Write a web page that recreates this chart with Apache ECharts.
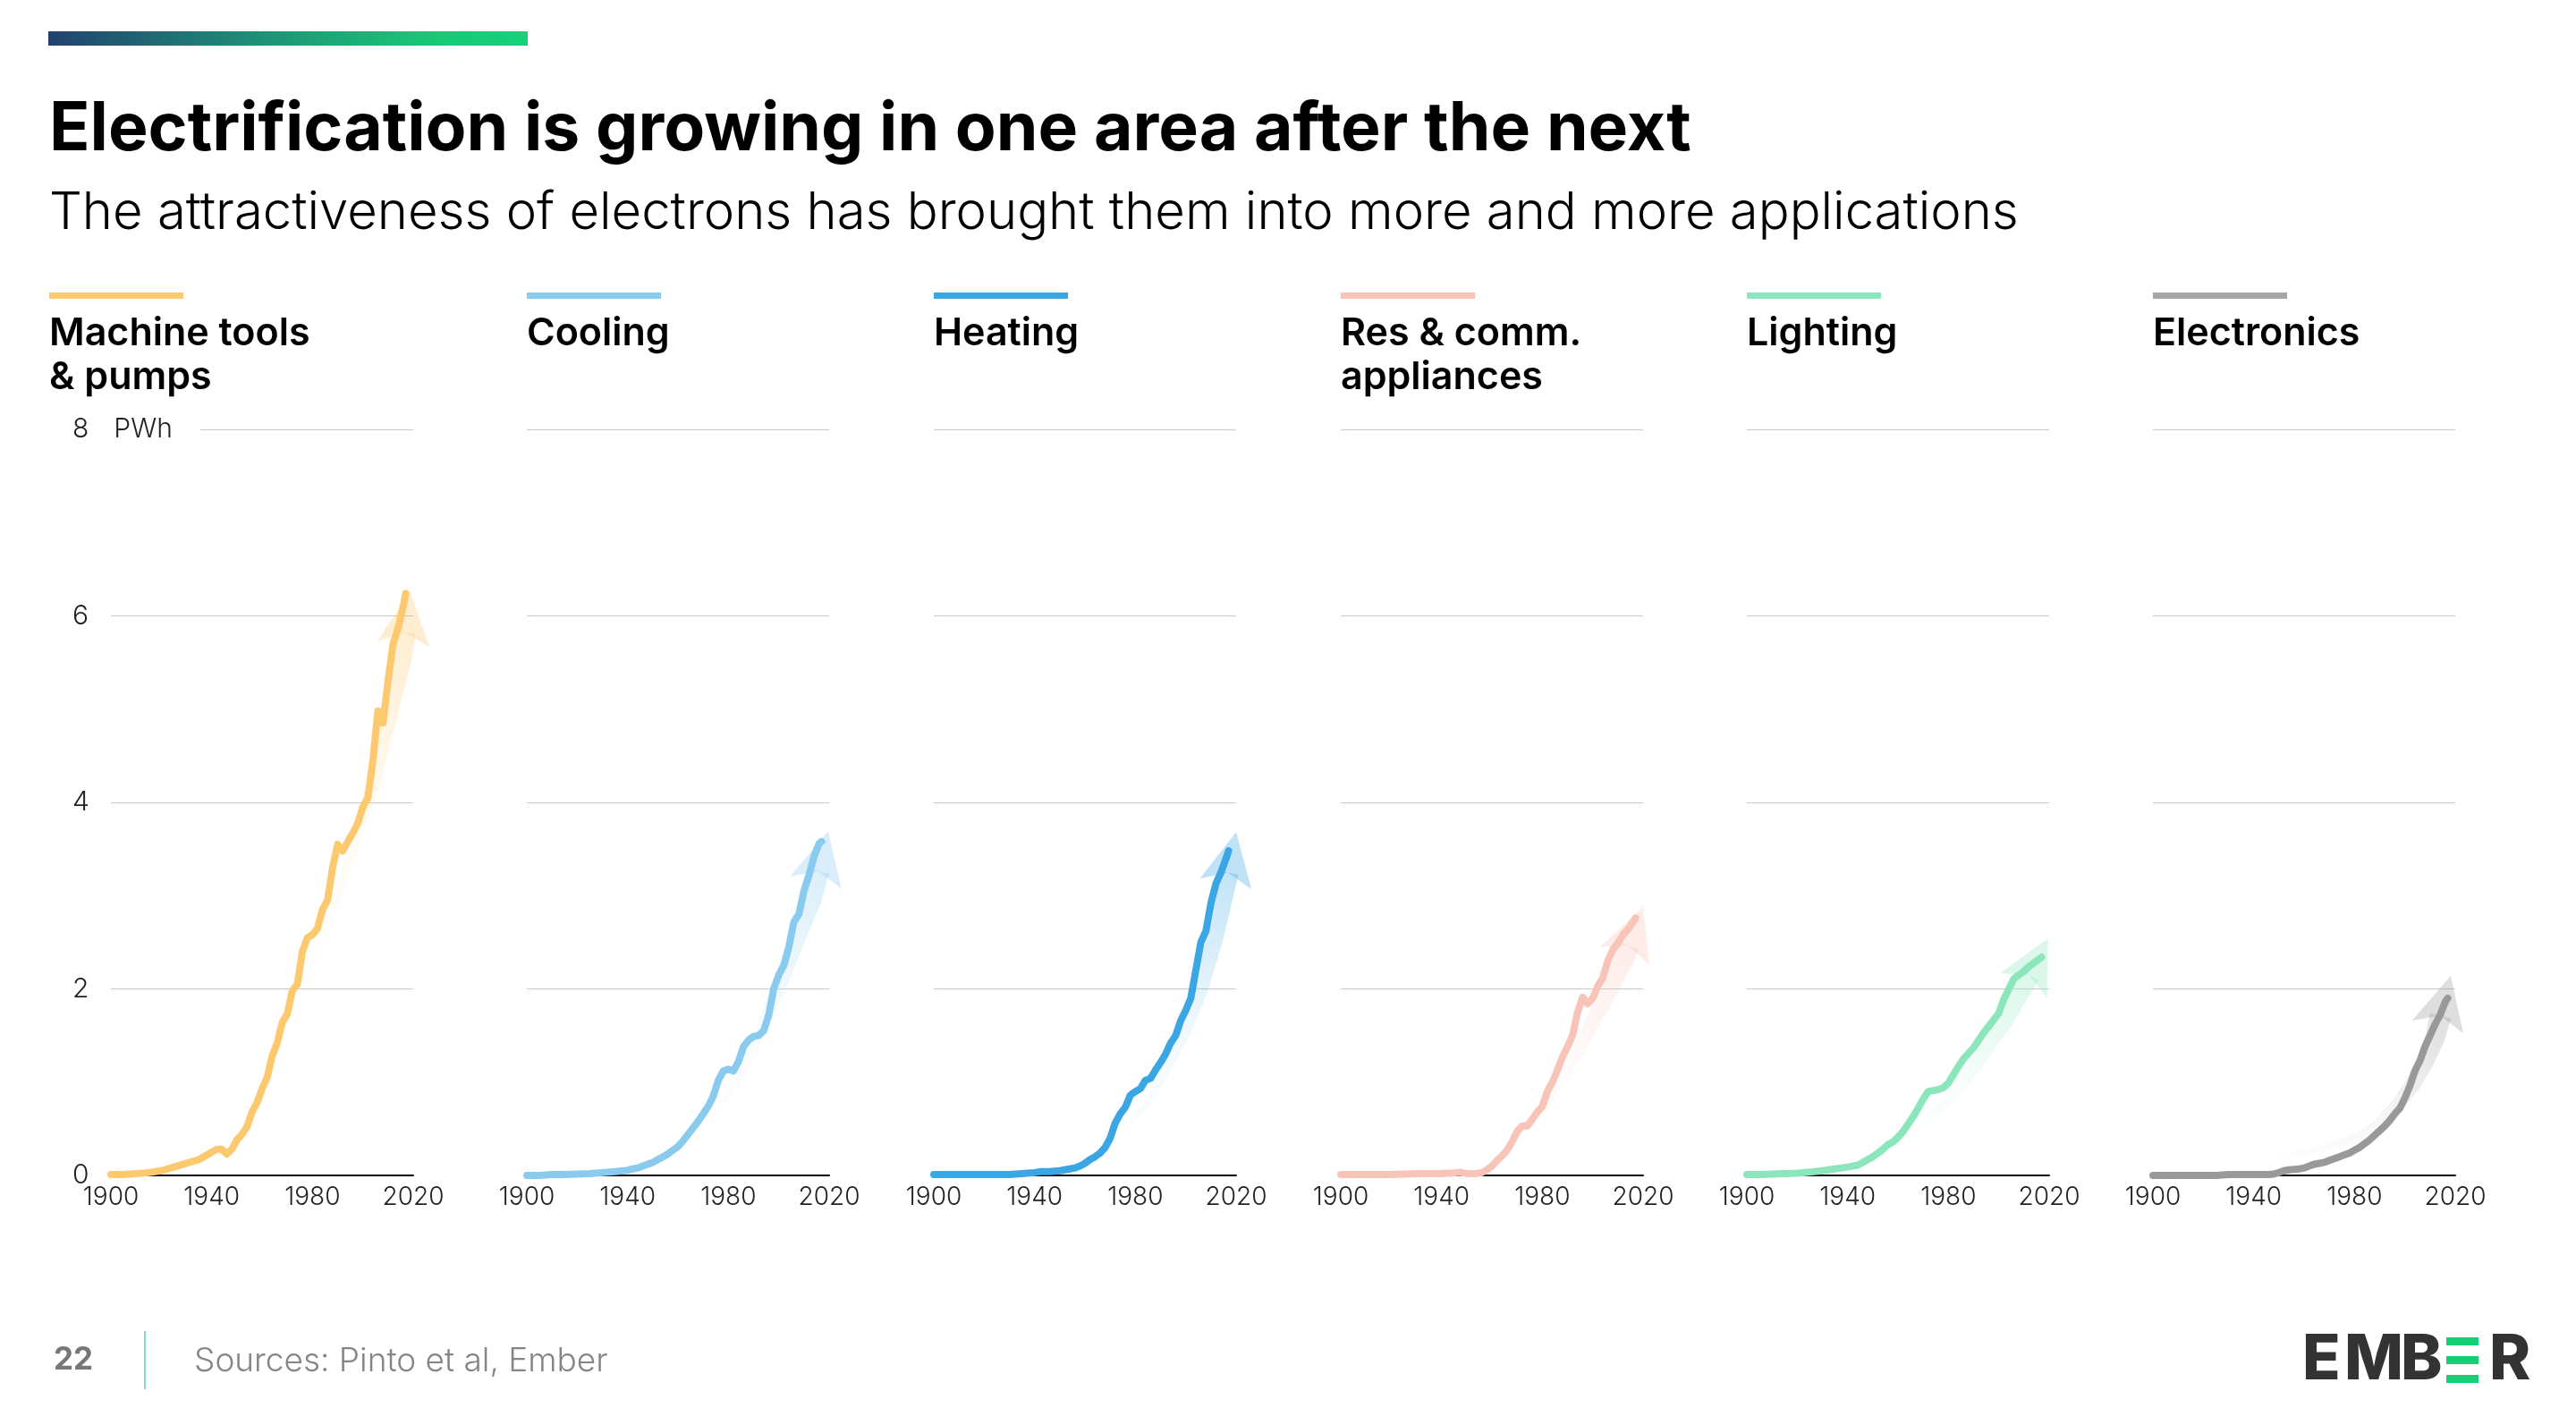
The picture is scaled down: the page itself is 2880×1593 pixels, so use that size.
<!DOCTYPE html>
<html>
<head>
<meta charset="utf-8">
<title>Electrification is growing in one area after the next</title>
<script src="https://cdn.jsdelivr.net/npm/echarts@6/dist/echarts.min.js"></script>
<style>
  html, body { margin: 0; padding: 0; background: #ffffff; }
  #chart { width: 2880px; height: 1593px; }
</style>
</head>
<body>
<div id="chart"></div>
<script>
// ---- data (PWh) ----
const years = [1900, 1905, 1910, 1915, 1920, 1925, 1930, 1935,
  1940, 1942, 1944, 1946, 1948, 1950, 1952, 1954, 1956, 1958,
  1960, 1962, 1964, 1966, 1968, 1970, 1972, 1974, 1976, 1978,
  1980, 1982, 1984, 1986, 1988, 1990, 1992, 1994, 1996, 1998,
  2000, 2002, 2004, 2006, 2008, 2010, 2012, 2014, 2016, 2017];

const machineTools = [0.01, 0.01, 0.02, 0.03, 0.05, 0.09, 0.13, 0.17,
  0.25, 0.28, 0.28, 0.23, 0.28, 0.38, 0.44, 0.52, 0.68, 0.78,
  0.93, 1.05, 1.28, 1.42, 1.64, 1.73, 1.98, 2.05, 2.4, 2.55,
  2.58, 2.65, 2.85, 2.95, 3.3, 3.55, 3.48, 3.58, 3.67, 3.78,
  3.95, 4.05, 4.45, 4.98, 4.85, 5.3, 5.7, 5.87, 6.1, 6.24];

const cooling = [0, 0, 0.01, 0.01, 0.015, 0.02, 0.03, 0.04,
  0.055, 0.07, 0.08, 0.1, 0.12, 0.14, 0.17, 0.2, 0.23, 0.27,
  0.31, 0.37, 0.44, 0.51, 0.58, 0.66, 0.74, 0.85, 1.02, 1.12,
  1.14, 1.12, 1.22, 1.38, 1.45, 1.49, 1.5, 1.55, 1.72, 2.0,
  2.15, 2.25, 2.45, 2.72, 2.8, 3.05, 3.22, 3.42, 3.56, 3.58];

const heating = [0.01, 0.01, 0.01, 0.01, 0.01, 0.01, 0.01, 0.02,
  0.03, 0.04, 0.04, 0.04, 0.045, 0.05, 0.06, 0.07, 0.08, 0.1,
  0.13, 0.17, 0.2, 0.24, 0.3, 0.4, 0.56, 0.66, 0.73, 0.86,
  0.9, 0.93, 1.02, 1.04, 1.13, 1.21, 1.3, 1.42, 1.5, 1.66,
  1.77, 1.9, 2.2, 2.5, 2.62, 2.92, 3.13, 3.25, 3.4, 3.48];

const appliances = [0.01, 0.01, 0.01, 0.01, 0.01, 0.015, 0.02, 0.02,
  0.02, 0.025, 0.025, 0.03, 0.03, 0.02, 0.02, 0.02, 0.03, 0.06,
  0.1, 0.16, 0.21, 0.27, 0.36, 0.47, 0.53, 0.53, 0.6, 0.68,
  0.74, 0.9, 1.0, 1.13, 1.27, 1.38, 1.5, 1.75, 1.91, 1.84,
  1.9, 2.03, 2.12, 2.3, 2.42, 2.49, 2.58, 2.64, 2.72, 2.76];

const lighting = [0.01, 0.01, 0.015, 0.02, 0.025, 0.035, 0.05, 0.07,
  0.09, 0.1, 0.11, 0.14, 0.17, 0.2, 0.24, 0.28, 0.33, 0.36,
  0.41, 0.47, 0.55, 0.63, 0.72, 0.82, 0.9, 0.91, 0.92, 0.94,
  0.99, 1.08, 1.17, 1.25, 1.31, 1.37, 1.45, 1.53, 1.6, 1.67,
  1.74, 1.89, 2.0, 2.11, 2.15, 2.19, 2.24, 2.28, 2.32, 2.34];

const electronics = [0, 0, 0, 0, 0, 0, 0.01, 0.01,
  0.01, 0.01, 0.01, 0.01, 0.015, 0.03, 0.05, 0.06, 0.065, 0.07,
  0.08, 0.1, 0.12, 0.13, 0.14, 0.16, 0.18, 0.2, 0.22, 0.24,
  0.27, 0.3, 0.34, 0.38, 0.43, 0.48, 0.53, 0.59, 0.66, 0.72,
  0.83, 0.96, 1.12, 1.23, 1.38, 1.5, 1.62, 1.72, 1.86, 1.9];

// trend arrows: [year, PWh], last point is the arrow tip
const arrowMachine = [[1974, 1.75], [1982, 2.4], [1990, 3.0], [1997, 3.6], [2004, 4.2], [2010, 4.9], [2015.5, 5.55], [2018.7, 6.26]];
const arrowCooling = [[1960, 0.25], [1968, 0.42], [1976, 0.72], [1984, 1.05], [1992, 1.5], [2000.5, 2.05], [2008, 2.6], [2013, 2.95], [2019.6, 3.69]];
const arrowHeating = [[1962, 0.15], [1970, 0.3], [1978, 0.55], [1986, 0.82], [1993, 1.18], [2000, 1.55], [2006, 2.0], [2011, 2.5], [2014.5, 2.95], [2020, 3.68]];
const arrowAppliances = [[1957, 0.12], [1966, 0.3], [1974, 0.5], [1981, 0.75], [1988, 1.05], [1995, 1.38], [2001, 1.7], [2007, 2.02], [2012, 2.3], [2020, 2.88]];
const arrowLighting = [[1945, 0.13], [1955, 0.25], [1963, 0.4], [1971, 0.58], [1980, 0.8], [1988, 1.08], [1995, 1.36], [2002, 1.65], [2008, 1.95], [2012, 2.15], [2019.5, 2.54]];
const arrowElectronics = [[1942, 0.2], [1952, 0.22], [1962, 0.26], [1972, 0.32], [1982, 0.42], [1990, 0.56], [1997, 0.75], [2003, 0.97], [2008, 1.22], [2012, 1.48], [2018.2, 2.14]];

const panelNames = ['Machine tools\n& pumps', 'Cooling', 'Heating', 'Res & comm.\nappliances', 'Lighting', 'Electronics'];
const panelValues = [machineTools, cooling, heating, appliances, lighting, electronics];
const panelArrows = [arrowMachine, arrowCooling, arrowHeating, arrowAppliances, arrowLighting, arrowElectronics];
const panelColors = ['#fdc96f', '#88cbee', '#3aa6e3', '#f9c4b8', '#8be6bc', '#999999'];
const xTickLabels = [1900, 1940, 1980, 2020];
const yUnit = 'PWh';

// ---- layout ----
const gridLeft = [124, 589, 1044, 1499, 1953, 2407];
const titleLeft = [55, 589, 1044, 1499, 1953, 2407];
const gridTop = 480, gridWidth = 338, gridHeight = 834;
const FONT = 'Inter, Lato, "Noto Sans", sans-serif';

function rgba(hex, a) {
  const n = parseInt(hex.slice(1), 16);
  return 'rgba(' + (n >> 16 & 255) + ',' + (n >> 8 & 255) + ',' + (n & 255) + ',' + a + ')';
}

// tapered, fading arrow drawn through the axes of one panel
function arrowSeries(idx, path, color) {
  const headLen = 59, headHalf = 29.5, notch = 46, wStart = 2, wEnd = 24;
  return {
    type: 'custom',
    xAxisIndex: idx,
    yAxisIndex: idx,
    silent: true,
    z: 1,
    data: path,
    renderItem: function (params, api) {
      if (params.dataIndex !== 0) return null;
      const pts = path.map(function (p) { return api.coord(p); });
      const n = pts.length;
      const tip = pts[n - 1], prev = pts[n - 2];
      let dx = tip[0] - prev[0], dy = tip[1] - prev[1];
      const dl = Math.hypot(dx, dy); dx /= dl; dy /= dl;
      const nx = -dy, ny = dx;
      const neck = [tip[0] - dx * notch, tip[1] - dy * notch];
      const shaft = pts.slice(0, n - 1).filter(function (p) {
        return Math.hypot(p[0] - tip[0], p[1] - tip[1]) > notch + 10;
      });
      shaft.push(neck);
      const cum = [0];
      for (let i = 1; i < shaft.length; i++) {
        cum.push(cum[i - 1] + Math.hypot(shaft[i][0] - shaft[i - 1][0], shaft[i][1] - shaft[i - 1][1]));
      }
      const total = cum[cum.length - 1];
      const left = [], right = [];
      shaft.forEach(function (p, i) {
        const a = shaft[Math.max(0, i - 1)], b = shaft[Math.min(shaft.length - 1, i + 1)];
        let tx = b[0] - a[0], ty = b[1] - a[1];
        const tl = Math.hypot(tx, ty) || 1; tx /= tl; ty /= tl;
        if (i === shaft.length - 1) { tx = dx; ty = dy; }
        const w = (wStart + (wEnd - wStart) * cum[i] / total) / 2;
        left.push([p[0] - ty * w, p[1] + tx * w]);
        right.push([p[0] + ty * w, p[1] - tx * w]);
      });
      const body = left.concat(right.reverse());
      const head = [
        tip,
        [tip[0] - dx * headLen + nx * headHalf, tip[1] - dy * headLen + ny * headHalf],
        neck,
        [tip[0] - dx * headLen - nx * headHalf, tip[1] - dy * headLen - ny * headHalf]
      ];
      return {
        type: 'group',
        children: [
          {
            type: 'polygon',
            shape: { points: body },
            style: {
              fill: new echarts.graphic.LinearGradient(shaft[0][0], shaft[0][1], neck[0], neck[1], [
                { offset: 0, color: rgba(color, 0) },
                { offset: 0.5, color: rgba(color, 0.07) },
                { offset: 1, color: rgba(color, 0.3) }
              ], true)
            }
          },
          { type: 'polygon', shape: { points: head }, style: { fill: rgba(color, 0.32) } }
        ]
      };
    }
  };
}

const grids = [], xAxes = [], yAxes = [], series = [];
panelNames.forEach(function (name, i) {
  grids.push({ left: gridLeft[i], top: gridTop, width: gridWidth, height: gridHeight, outerBoundsMode: 'none' });
  xAxes.push({
    type: 'value', gridIndex: i, min: 1900, max: 2020,
    axisLine: { show: true, lineStyle: { color: '#000000', width: 2 } },
    axisTick: { show: false },
    splitLine: { show: false },
    axisLabel: {
      customValues: xTickLabels,
      formatter: function (v) { return String(v); },
      margin: 11,
      color: '#222222', fontFamily: FONT, fontWeight: 300, fontSize: 28
    }
  });
  yAxes.push({
    type: 'value', gridIndex: i, min: 0, max: 8, interval: 2, position: 'left', z: 0,
    axisLine: { show: false }, axisTick: { show: false }, axisLabel: { show: false },
    splitLine: { show: true, lineStyle: { color: '#c8c8c8', width: 1 } }
  });
  series.push(arrowSeries(i, panelArrows[i], panelColors[i]));
  series.push({
    type: 'line', name: name.replace('\n', ' '), xAxisIndex: i, yAxisIndex: i, z: 3,
    showSymbol: false, silent: true,
    lineStyle: { color: panelColors[i], width: 8, cap: 'round', join: 'round' },
    data: years.map(function (y, k) { return [y, panelValues[i][k]]; })
  });
});

// label-only axis for the first panel (drawn above the gridlines)
yAxes.push({
  type: 'value', gridIndex: 0, min: 0, max: 8, interval: 2, position: 'left', z: 5,
  axisLine: { show: false }, axisTick: { show: false }, splitLine: { show: false },
  axisLabel: {
    align: 'left', margin: 43,
    formatter: function (v) { return v === 8 ? '{n|8}{u|' + yUnit + '}' : '{n|' + v + '}'; },
    rich: {
      n: { fontFamily: FONT, fontWeight: 300, fontSize: 30, color: '#222222' },
      u: { fontFamily: FONT, fontWeight: 300, fontSize: 30, color: '#222222',
           backgroundColor: '#ffffff', padding: [4, 31, 4, 28] }
    }
  }
});

const graphics = [
  {
    type: 'rect', shape: { x: 54, y: 35, width: 536, height: 16 }, silent: true,
    style: {
      fill: new echarts.graphic.LinearGradient(0, 0, 1, 0, [
        { offset: 0, color: '#21426f' },
        { offset: 0.45, color: '#1f9277' },
        { offset: 0.8, color: '#17c976' },
        { offset: 1, color: '#16d178' }
      ])
    }
  },
  {
    type: 'text', x: 55, y: 145, silent: true,
    style: { text: 'Electrification is growing in one area after the next', fill: '#000000',
             font: 'bold 75px ' + FONT, verticalAlign: 'middle' }
  },
  {
    type: 'text', x: 55, y: 239, silent: true,
    style: { text: 'The attractiveness of electrons has brought them into more and more applications', fill: '#000000',
             font: '300 58px ' + FONT, verticalAlign: 'middle' }
  },
  {
    type: 'text', x: 60, y: 1520, silent: true,
    style: { text: '22', fill: '#777777', font: 'bold 35px ' + FONT, verticalAlign: 'middle' }
  },
  { type: 'rect', shape: { x: 161, y: 1488, width: 2, height: 65 }, silent: true, style: { fill: '#80e2b4' } },
  {
    type: 'text', x: 217, y: 1522, silent: true,
    style: { text: 'Sources: Pinto et al, Ember', fill: '#858585', font: '300 37px ' + FONT, verticalAlign: 'middle' }
  }
];

panelNames.forEach(function (name, i) {
  graphics.push({ type: 'rect', shape: { x: titleLeft[i], y: 327, width: 150, height: 7 }, silent: true,
                  style: { fill: i === 5 ? '#a6a6a6' : panelColors[i] } });
  graphics.push({
    type: 'text', x: titleLeft[i], y: 349, silent: true,
    style: { text: name, fill: '#000000', font: '600 43px ' + FONT, lineHeight: 49, verticalAlign: 'top' }
  });
});

// EMBER logo
const logoLetters = [['E', 2574], ['M', 2621], ['B', 2684], ['R', 2783]];
logoLetters.forEach(function (l) {
  graphics.push({ type: 'text', x: l[1], y: 1521, silent: true,
                  style: { text: l[0], fill: '#333333', font: '800 70px ' + FONT, verticalAlign: 'middle' } });
});
[1495, 1516, 1537].forEach(function (y) {
  graphics.push({ type: 'rect', shape: { x: 2735, y: y, width: 36, height: 9 }, silent: true, style: { fill: '#16cf75' } });
});

const chart = echarts.init(document.getElementById('chart'));
chart.setOption({
  animation: false,
  backgroundColor: '#ffffff',
  grid: grids,
  xAxis: xAxes,
  yAxis: yAxes,
  series: series,
  graphic: graphics
});
</script>
</body>
</html>
